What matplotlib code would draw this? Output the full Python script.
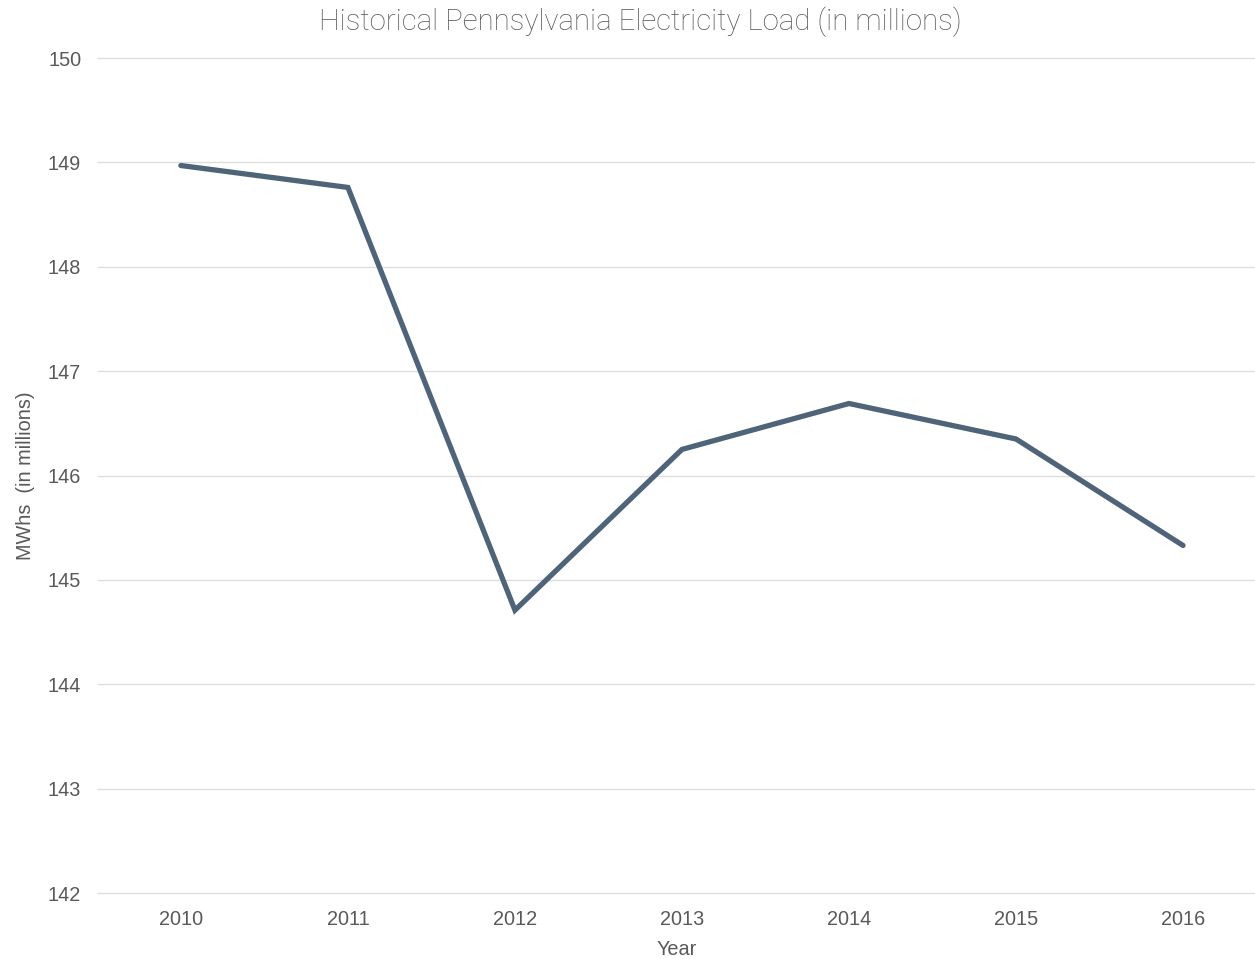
import matplotlib.pyplot as plt

# Historical load, MWh in millions
years = ['2010', '2011', '2012', '2013', '2014', '2015', '2016']
load = [148.97, 148.76, 144.71, 146.25, 146.69, 146.35, 145.33]
y_ticks = [142, 143, 144, 145, 146, 147, 148, 149, 150]

plt.rcParams['font.family'] = ['Liberation Sans', 'DejaVu Sans']
text_color = '#595959'

fig = plt.figure(figsize=(12.55, 9.59), dpi=100)
ax = fig.add_axes([0.078, 0.0688, 0.922, 0.8707])

ax.plot(range(len(years)), load, color='#4f6478', linewidth=3.8,
        solid_joinstyle='miter', solid_capstyle='round', zorder=3)

ax.set_ylim(142, 150)
ax.set_yticks(y_ticks)
ax.set_xlim(-0.497, 6.431)
ax.set_xticks(range(len(years)))
ax.set_xticklabels(years)

ax.grid(axis='y', color='#dedede', linewidth=1)
for gl in ax.get_ygridlines():
    gl.set_clip_on(False)
ax.set_axisbelow(True)
for s in ax.spines.values():
    s.set_visible(False)
ax.tick_params(axis='both', length=0, labelsize=14.3, colors=text_color)
ax.tick_params(axis='y', pad=12)
ax.tick_params(axis='x', pad=12.5)

ax.set_xlabel('Year', fontsize=14.3, color=text_color, labelpad=7.5)
ax.set_ylabel('MWhs  (in millions)', fontsize=14.3, color=text_color, labelpad=9)
fig.text(0.51, 0.977, 'Historical Pennsylvania Electricity Load (in millions)',
         ha='center', va='center', fontsize=21.2, color='#5a5a5a',
         family=['Roboto', 'DejaVu Sans'], fontweight='light')

fig.savefig('out.png', dpi=100)
